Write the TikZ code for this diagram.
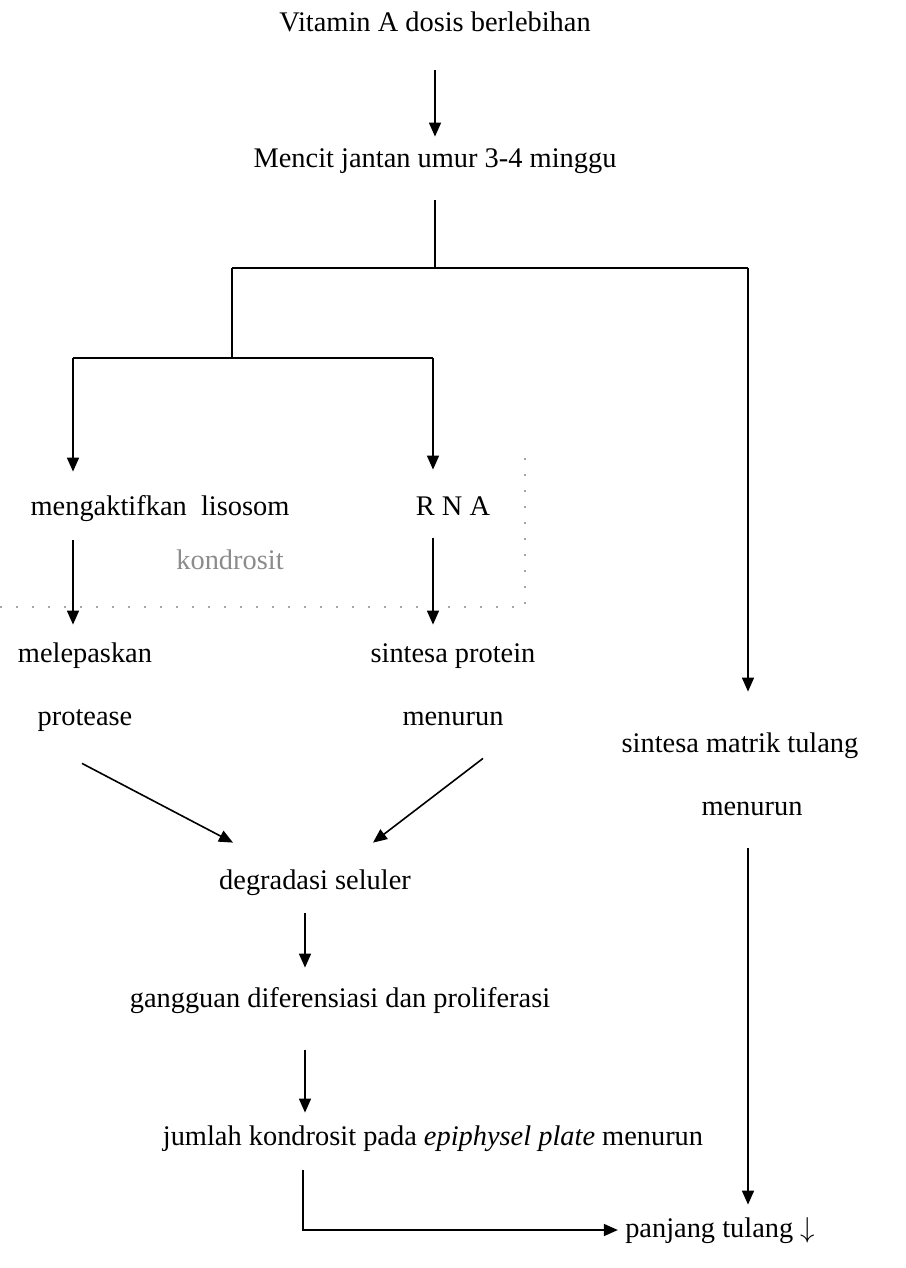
\documentclass[tikz,border=0pt]{standalone}
\usepackage{fontspec}
\setmainfont{Liberation Serif}
\usetikzlibrary{arrows.meta,calc}

\begin{document}
\begin{tikzpicture}[x=0.5pt,y=-0.5pt]
    \tikzstyle{txt}=[inner sep=1pt,text height=10pt,text depth=3pt,font=\fontsize{14.2}{17}\selectfont]
    \tikzstyle{ln}=[line width=0.8pt]
    \tikzstyle{arr}=[line width=0.8pt,-{Triangle[length=7pt,width=6pt]}]
    \useasboundingbox (0,0) rectangle (905,1268);

    % texts
    \node[txt] (vit) at (435,25) {Vitamin A dosis berlebihan};
    \node[txt] (mencit) at (435,160) {Mencit jantan umur 3-4 minggu};
    \node[txt] (lisosom) at (160,508) {mengaktifkan\ \ lisosom};
    \node[txt] (rna) at (453,508) {R N A};
    \node[txt,text=black!45] (kondrosit) at (230,562) {kondrosit};
    \node[txt] (lepas) at (85,655) {melepaskan};
    \node[txt] (protease) at (85,718) {protease};
    \node[txt] (sintprot) at (453,655) {sintesa protein};
    \node[txt] (turunA) at (453,718) {menurun};
    \node[txt] (matrik) at (740,745) {sintesa matrik tulang};
    \node[txt] (turunB) at (752,808) {menurun};
    \node[txt] (degradasi) at (315,882) {degradasi seluler};
    \node[txt] (gangguan) at (340,1000) {gangguan diferensiasi dan proliferasi};
    \node[txt] (jumlah) at (433,1138) {jumlah kondrosit pada \textit{epiphysel plate} menurun};
    \node[txt] (panjang) at (720,1230) {panjang tulang $\downarrow$};

    % faint dotted frame
    \draw[black!35,line width=0.6pt,dash pattern=on 1pt off 7pt] (0,607) -- (525,607) -- (525,447);

    % branching
    \coordinate (j1) at (435,268);
    \coordinate (jl) at (232,268);
    \coordinate (jr) at (748,268);
    \coordinate (j2) at (232,358);
    \coordinate (jl2) at (73,358);
    \coordinate (jr2) at (433,358);

    \draw[arr,shorten <=15pt,shorten >=4pt] (vit) -- (mencit);
    \draw[ln,shorten <=12.5pt] (mencit.south) -- (j1);
    \draw[ln] (jl) -- (jr);
    \draw[ln] (jl) -- (j2);
    \draw[ln] (jl2) -- (jr2);
    \draw[arr,shorten >=19pt] (jr) -- (jr |- matrik.north);
    \draw[arr,shorten >=10.5pt] (jl2) -- (jl2 |- lisosom.north);
    \draw[arr,shorten >=11.5pt] (jr2) -- (jr2 |- rna.north);

    \draw[arr,shorten <=8.5pt,shorten >=7.5pt] (lisosom.south -| jl2) -- (lepas.north -| jl2);
    \draw[arr,shorten <=7.5pt,shorten >=7.5pt] (rna.south -| jr2) -- (sintprot.north -| jr2);

    \draw[arr] ($(protease.south)+(-3,30)$) -- ($(degradasi.north)+(-82,-24)$);
    \draw[arr] ($(turunA.south)+(30,25)$) -- ($(degradasi.north)+(58,-24)$);

    \draw[arr,shorten <=8pt,shorten >=8.5pt] ([xshift=-5pt]degradasi.south) -- ([xshift=-5pt]degradasi.south |- gangguan.north);
    \draw[arr,shorten <=17.5pt,shorten >=5pt] ([xshift=-17.5pt]gangguan.south) -- ([xshift=-17.5pt]gangguan.south |- jumlah.north);

    \draw[arr,shorten <=8.5pt,shorten >=2.5pt] ([xshift=-65pt]jumlah.south) |- (panjang.west);
    \draw[arr,shorten <=12.5pt,shorten >=5pt] (turunB.south -| jr) -- (panjang.north -| jr);
\end{tikzpicture}
\end{document}
